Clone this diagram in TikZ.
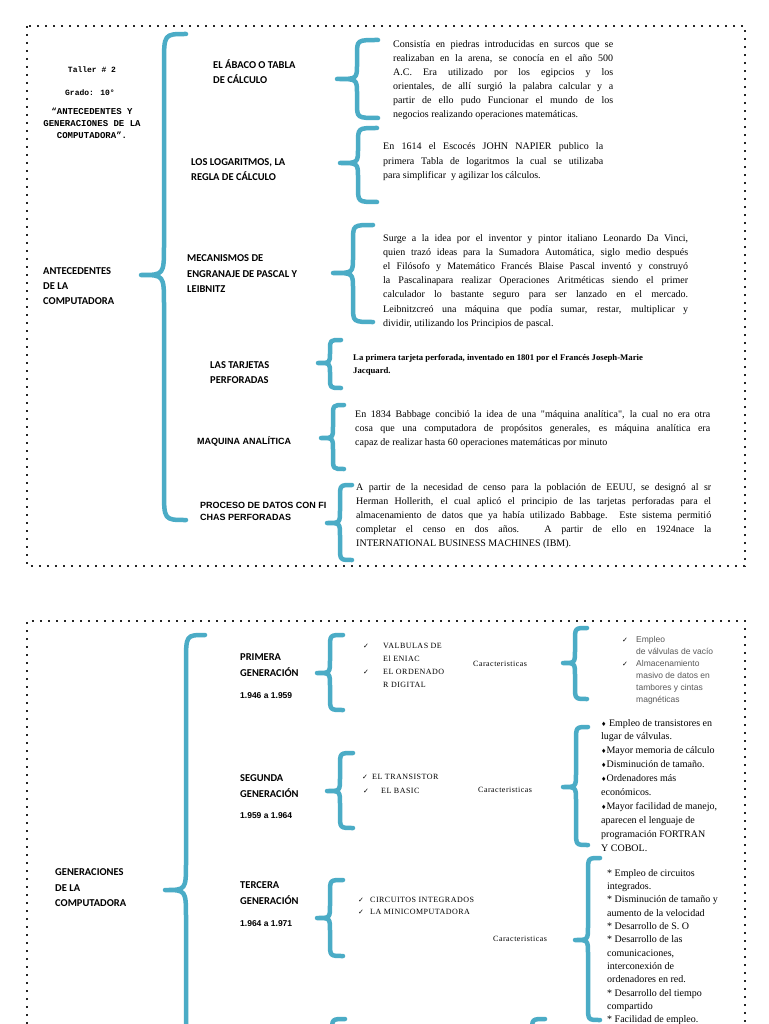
\documentclass[tikz,border=0pt]{standalone}
\usepackage{fontspec}
\setmainfont{Liberation Serif}
\newfontfamily\calib{Carlito}
\newfontfamily\arialf{Liberation Sans}
\newfontfamily\courf{Liberation Mono}
\newfontfamily\dejavu{DejaVu Sans}
\newfontfamily\spcf[LetterSpace=6]{Liberation Serif}
\definecolor{brc}{HTML}{4BACC6}
\definecolor{gtx}{HTML}{595959}
\newcommand\cbrace[7]{% xe xv xt yt ym yb c
  \draw[bracestyle] (#1,#4) .. controls (#2,#4) .. (#2,{#4+#7}) -- (#2,{#5-#7})
    .. controls (#2,#5) .. (#3,#5) .. controls (#2,#5) .. (#2,{#5+#7})
    -- (#2,{#6-#7}) .. controls (#2,#6) .. (#1,#6);}
\newcommand\txtlines[6]{\foreach \tx [count=\i] in {#6}{%
  \node[anchor=base west,#2] (#1-\i) at (#3,{#4+(\i-1)*#5}) {\tx};}}
\newcommand\jst[2]{\makebox[#1pt][s]{#2}}
\newcommand\dia{{\dejavu\fontsize{6}{6}\selectfont ♦}}
\tikzset{
 bracestyle/.style={draw=brc, line width=4.5pt, line cap=round, line join=round},
 dotborder/.style={draw=black!85, line width=2.4pt, dash pattern=on 2.4pt off 5.6pt},
 lbl/.style={font=\calib\bfseries\fontsize{10.5}{12}\selectfont, inner sep=0pt},
 albl/.style={font=\arialf\bfseries\fontsize{9}{11}\selectfont, inner sep=0pt},
 dates/.style={font=\arialf\bfseries\fontsize{8.5}{10}\selectfont, inner sep=0pt},
 bodytxt/.style={font=\fontsize{10}{12}\selectfont, inner sep=0pt},
 smallbody/.style={font=\bfseries\fontsize{8.7}{10}\selectfont, inner sep=0pt},
 capslist/.style={font=\spcf\fontsize{8}{10}\selectfont, inner sep=0pt},
 grylist/.style={font=\arialf\fontsize{8.5}{10}\selectfont, text=gtx, inner sep=0pt},
 chk/.style={font=\dejavu\fontsize{7}{8}\selectfont, inner sep=0pt, anchor=base west},
 headtxt/.style={font=\courf\bfseries\fontsize{9}{11}\selectfont, inner sep=0pt, anchor=base},
}
\begin{document}
\begin{tikzpicture}[x=1pt,y=-1pt]
\useasboundingbox (0,0) rectangle (768,1024);
\clip (0,0) rectangle (768,1024);
\fill[white] (0,0) rectangle (768,1024);

% ---------- borders ----------
\draw[dotborder] (27,26) rectangle (745,566);
\draw[dotborder] (27,1040) -- (27,621) -- (745,621) -- (745,1040);

% ---------- page 1 ----------
\node[headtxt, font=\courf\bfseries\fontsize{8}{10}\selectfont] (taller) at (92,73) {Taller \# 2};
\node[headtxt, font=\courf\bfseries\fontsize{8}{10}\selectfont] (grado) at (90,96) {Grado: 10°};
\txtlines{tit}{headtxt}{92}{115}{12}{{“ANTECEDENTES  Y},{GENERACIONES DE LA},{COMPUTADORA”.}}

\txtlines{ante}{lbl}{43}{274.5}{15}{{ANTECEDENTES},{DE LA},{COMPUTADORA}}
\cbrace{186}{164}{141}{34}{275}{520}{30}

\txtlines{abaco}{lbl}{213}{68.5}{15}{{EL ÁBACO O TABLA},{DE CÁLCULO}}
\txtlines{loga}{lbl}{191}{165.5}{15}{{LOS LOGARITMOS, LA},{REGLA DE CÁLCULO}}
\txtlines{meca}{lbl}{187}{261.5}{15.5}{{MECANISMOS DE},{ENGRANAJE DE PASCAL Y},{LEIBNITZ}}
\txtlines{tarj}{lbl}{210}{368.5}{15}{{LAS TARJETAS},{PERFORADAS}}
\node[albl, anchor=base west] (maq) at (197,444) {MAQUINA ANALÍTICA};
\txtlines{proc}{albl}{200}{508}{12.5}{{PROCESO DE DATOS CON FI},{CHAS PERFORADAS}}

\cbrace{378}{357}{337}{40}{79}{118}{15}
\cbrace{377}{358}{340}{128}{163}{202}{15}
\cbrace{373}{353}{333}{225}{273}{322}{16}
\cbrace{341}{330}{318}{340}{363}{388}{10}
\cbrace{344}{333}{321}{405}{438}{469}{12}
\cbrace{352}{340}{327}{485}{523}{560}{13}

\txtlines{pabaco}{bodytxt}{393}{48}{14}{%
 {\jst{220}{Consistía en piedras introducidas en surcos que se}},
 {\jst{220}{realizaban en la arena, se conocía en el año 500}},
 {\jst{220}{A.C. Era utilizado por los egipcios y los}},
 {\jst{220}{orientales, de allí surgió la palabra calcular y a}},
 {\jst{220}{partir de ello pudo Funcionar el mundo de los}},
 {negocios realizando operaciones matemáticas.}}
\txtlines{ploga}{bodytxt}{383}{150}{14.3}{%
 {\jst{220}{En 1614 el Escocés JOHN NAPIER publico la}},
 {\jst{220}{primera Tabla de logaritmos la cual se utilizaba}},
 {para simplificar \ y agilizar los cálculos.}}
\txtlines{pmeca}{bodytxt}{383}{241}{14.2}{%
 {\jst{305}{Surge a la idea por el inventor y pintor italiano Leonardo Da Vinci,}},
 {\jst{305}{quien trazó ideas para la Sumadora Automática, siglo medio después}},
 {\jst{305}{el Filósofo y Matemático Francés Blaise Pascal inventó y construyó}},
 {\jst{305}{la Pascalinapara realizar Operaciones Aritméticas siendo el primer}},
 {\jst{305}{calculador lo bastante seguro para ser lanzado en el mercado.}},
 {\jst{305}{Leibnitzcreó una máquina que podía sumar, restar, multiplicar y}},
 {dividir, utilizando los Principios de pascal.}}
\txtlines{ptarj}{smallbody}{353}{360}{13}{%
 {La primera tarjeta perforada, inventado en 1801 por el Francés Joseph-Marie},
 {Jacquard.}}
\txtlines{pmaq}{bodytxt}{355}{417}{14}{%
 {\jst{355}{En 1834 Babbage concibió la idea de una \textquotedbl máquina analítica\textquotedbl, la cual no era otra}},
 {\jst{355}{cosa que una computadora de propósitos generales, es máquina analítica era}},
 {capaz de realizar hasta 60 operaciones matemáticas por minuto}}
\txtlines{pproc}{bodytxt}{356}{490}{14}{%
 {\jst{355}{A partir de la necesidad de censo para la población de EEUU, se designó al sr}},
 {\jst{355}{Herman Hollerith, el cual aplicó el principio de las tarjetas perforadas para el}},
 {\jst{355}{almacenamiento de datos que ya había utilizado Babbage. Este sistema permitió}},
 {\jst{355}{completar el censo en dos años. A partir de ello en 1924nace la}},
 {INTERNATIONAL BUSINESS MACHINES (IBM).}}

% ---------- page 2 ----------
\txtlines{gen}{lbl}{55}{875.5}{15.5}{{GENERACIONES},{DE LA},{COMPUTADORA}}
\cbrace{205}{186}{165}{635}{890}{1120}{28}

\txtlines{prim}{lbl}{240}{660.5}{15.5}{{PRIMERA},{GENERACIÓN}}
\node[dates, anchor=base west] (primd) at (240,698) {1.946 a 1.959};
\txtlines{seg}{lbl}{240}{781.5}{15.5}{{SEGUNDA},{GENERACIÓN}}
\node[dates, anchor=base west] (segd) at (240,818) {1.959 a 1.964};
\txtlines{ter}{lbl}{240}{888.5}{15.5}{{TERCERA},{GENERACIÓN}}
\node[dates, anchor=base west] (terd) at (240,926) {1.964 a 1.971};

\cbrace{343}{330}{317}{635}{673}{710}{13}
\cbrace{587}{575}{563}{628}{663}{699}{13}
\cbrace{353}{340}{327}{753}{791}{828}{13}
\cbrace{588}{576}{563}{727}{787}{845}{14}
\cbrace{343}{330}{317}{880}{918}{956}{13}
\cbrace{600}{588}{575}{858}{940}{1020}{14}
\draw[bracestyle] (345,1019) .. controls (332,1019) .. (332,1032);
\draw[bracestyle] (545,1019) .. controls (532,1019) .. (532,1032);

% primera
\node[chk] (pc1) at (363,648) {✓};
\node[chk] (pc2) at (363,674) {✓};
\txtlines{plist}{capslist}{383}{648}{13}{{VALBULAS DE},{El ENIAC},{EL ORDENADO},{R DIGITAL}}
\node[capslist, anchor=base west] (car1) at (473,666) {Caracteristicas};
\node[chk] (pr1) at (622,642) {✓};
\node[chk] (pr2) at (622,666) {✓};
\txtlines{prl}{grylist}{636}{642}{12}{{Empleo},{de válvulas de vacío},{Almacenamiento},{masivo de datos en},{tambores y cintas},{magnéticas}}

% segunda
\node[chk] (sc1) at (362,779) {✓};
\node[capslist, anchor=base west] (s1) at (372,779) {EL TRANSISTOR};
\node[chk] (sc2) at (363,793) {✓};
\node[capslist, anchor=base west] (s2) at (381,793) {EL BASIC};
\node[capslist, anchor=base west] (car2) at (478,792) {Caracteristicas};
\txtlines{srl}{bodytxt}{601}{726}{13.9}{%
 {\dia\ Empleo de transistores en},{lugar de válvulas.},{\dia Mayor memoria de cálculo},
 {\dia Disminución de tamaño.},{\dia Ordenadores más},{económicos.},
 {\dia Mayor facilidad de manejo,},{aparecen el lenguaje de},{programación FORTRAN},{Y COBOL.}}

% tercera
\node[chk] (tc1) at (358,902) {✓};
\node[capslist, anchor=base west] (t1) at (370,902) {CIRCUITOS INTEGRADOS};
\node[chk] (tc2) at (358,914) {✓};
\node[capslist, anchor=base west] (t2) at (370,914) {LA MINICOMPUTADORA};
\node[capslist, anchor=base west] (car3) at (493,941) {Caracteristicas};
\txtlines{trl}{bodytxt}{607}{876}{13.36}{%
 {* Empleo de circuitos},{integrados.},{* Disminución de tamaño y},{aumento de la velocidad},
 {* Desarrollo de S. O},{* Desarrollo de las},{comunicaciones,},{interconexión de},
 {ordenadores en red.},{* Desarrollo del tiempo},{compartido},{* Facilidad de empleo.}}
\end{tikzpicture}
\end{document}
